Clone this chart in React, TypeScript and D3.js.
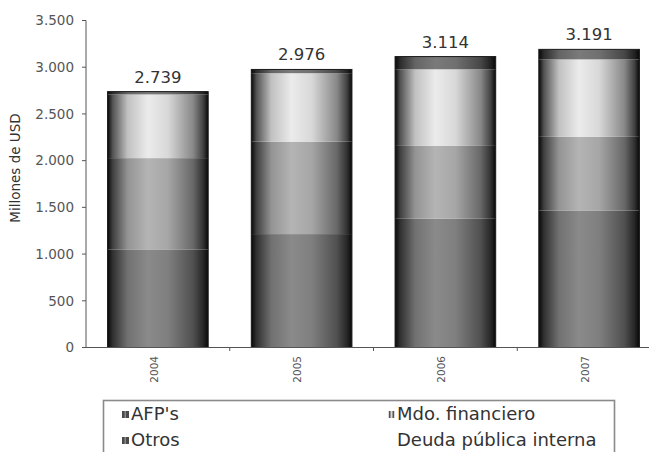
import React from "react";
import * as d3 from "d3";

const years = ["2004", "2005", "2006", "2007"];
const seriesNames = ["AFP's", "Mdo. financiero", "Otros", "Deuda pública interna"];
const afp = [1050, 1214, 1378, 1467];
const mdoFinanciero = [977, 989, 780, 788];
const otros = [682, 733, 820, 829];
const deuda = [30, 40, 136, 107];
const totals = [2739, 2976, 3114, 3191];
const yTicks = [0, 500, 1000, 1500, 2000, 2500, 3000, 3500];

const W = 651;
const H = 452;
const peakColors = ["#8a8a8a", "#b4b4b4", "#ebebeb", "#7a7a7a"];

const fmt = (v: number) => {
  const s = String(v);
  return s.length > 3 ? s.slice(0, s.length - 3) + "." + s.slice(s.length - 3) : s;
};

function shade(c: string, k: number) {
  const col = d3.rgb(c);
  return d3.rgb(col.r * k, col.g * k, col.b * k).formatHex();
}

export default function App() {
  const x = d3.scaleBand<string>().domain(years).range([86, 661]).paddingInner(0.3).paddingOuter(0.15);
  const y = d3.scaleLinear().domain([0, 3500]).range([347.5, 20.5]);
  const rows = years.map((yr, i) => ({
    year: yr,
    s0: afp[i],
    s1: mdoFinanciero[i],
    s2: otros[i],
    s3: deuda[i],
  }));
  const stack = d3.stack<any>().keys(["s0", "s1", "s2", "s3"]);
  const layers = stack(rows);
  const step = x.step();
  const font = "'DejaVu Sans', Verdana, sans-serif";

  const swatch = (i: number, sx: number, sy: number) => {
    if (i === 3) return null;
    if (i === 1) {
      return (
        <g>
          <rect x={sx} y={sy} width={7} height={7} fill="#d8d8d8" />
          <rect x={sx + 1} y={sy} width={1.5} height={7} fill="#555" />
          <rect x={sx + 4.5} y={sy} width={1.5} height={7} fill="#555" />
        </g>
      );
    }
    return (
      <g>
        <rect x={sx} y={sy} width={7} height={7} fill="#4a4a4a" />
        <rect x={sx + 2.5} y={sy} width={1.5} height={7} fill="#8a8a8a" />
      </g>
    );
  };

  return (
    <svg width={W} height={H} style={{ position: "absolute", left: 0, top: 0, background: "#fff" }} fontFamily={font}>
      <defs>
        {peakColors.map((c, i) => (
          <linearGradient key={i} id={`g${i}`} x1="0" x2="1" y1="0" y2="0">
            <stop offset="0" stopColor="#080808" />
            <stop offset="0.05" stopColor={shade(c, 0.35)} />
            <stop offset="0.2" stopColor={shade(c, 0.82)} />
            <stop offset="0.4" stopColor={c} />
            <stop offset="0.6" stopColor={shade(c, 0.92)} />
            <stop offset="0.85" stopColor={shade(c, 0.58)} />
            <stop offset="0.95" stopColor={shade(c, 0.28)} />
            <stop offset="1" stopColor="#080808" />
          </linearGradient>
        ))}
      </defs>

      {/* Y axis */}
      <line x1={86} x2={86} y1={y(3500)} y2={y(0)} stroke="#555" strokeWidth={1} />
      {yTicks.map((t) => (
        <g key={t}>
          <line x1={82} x2={86} y1={y(t)} y2={y(t)} stroke="#555" />
          <text x={74} y={y(t)} dy="0.35em" textAnchor="end" fontSize={13.5} fill="#555">
            {fmt(t)}
          </text>
        </g>
      ))}
      <text
        transform={`translate(20,168) rotate(-90)`}
        textAnchor="middle"
        fontSize={13.5}
        fill="#333"
      >
        Millones de USD
      </text>

      {/* Bars */}
      {layers.map((layer, li) =>
        layer.map((d, i) => (
          <rect
            key={`${li}-${i}`}
            x={x(years[i])!}
            width={x.bandwidth()}
            y={y(d[1])}
            height={y(d[0]) - y(d[1])}
            fill={`url(#g${li})`}
          />
        ))
      )}
      {years.map((yr, i) => (
        <rect
          key={`o${yr}`}
          x={x(yr)!}
          width={x.bandwidth()}
          y={y(totals[i])}
          height={y(0) - y(totals[i])}
          fill="none"
          stroke="#1a1a1a"
          strokeWidth={1}
        />
      ))}
      {years.map((yr, i) => (
        <text
          key={`t${yr}`}
          x={x(yr)! + x.bandwidth() / 2}
          y={y(totals[i]) - 9}
          textAnchor="middle"
          fontSize={16.5}
          fill="#333"
        >
          {fmt(totals[i])}
        </text>
      ))}

      {/* X axis */}
      <line x1={86} x2={649} y1={347.5} y2={347.5} stroke="#555" strokeWidth={1.2} />
      {[1, 2, 3].map((k) => (
        <line key={k} x1={86 + step * k} x2={86 + step * k} y1={347.5} y2={351} stroke="#555" />
      ))}
      {years.map((yr) => (
        <text
          key={`x${yr}`}
          transform={`translate(${x(yr)! + x.bandwidth() / 2 - 4},356) rotate(-90)`}
          textAnchor="end"
          dy="0.35em"
          fontSize={10.5}
          fill="#555"
        >
          {yr}
        </text>
      ))}

      {/* Legend */}
      <rect x={103.5} y={400.5} width={511} height={70} fill="#fff" stroke="#8a8a8a" strokeWidth={1.6} />
      {seriesNames.map((name, i) => {
        const col = i % 2;
        const row = Math.floor(i / 2);
        const lx = col === 0 ? 131 : 397;
        const ly = row === 0 ? 420 : 446;
        return (
          <g key={name}>
            {swatch(i, lx - 9, ly - 9)}
            <text x={lx} y={ly} fontSize={18} fill="#333">
              {name}
            </text>
          </g>
        );
      })}
    </svg>
  );
}
